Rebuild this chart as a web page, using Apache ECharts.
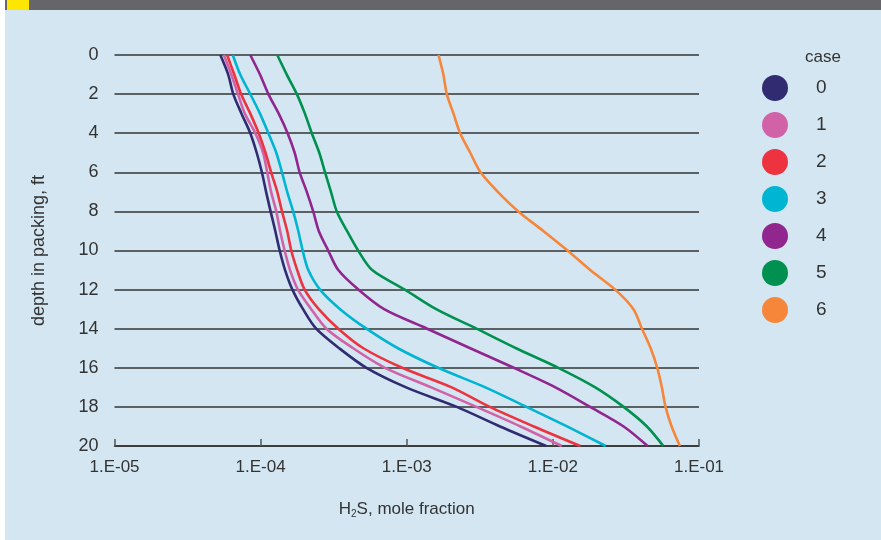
<!DOCTYPE html>
<html>
<head>
<meta charset="utf-8">
<script src="https://cdn.jsdelivr.net/npm/echarts@6/dist/echarts.min.js"></script>
<style>
  html, body { margin: 0; padding: 0; background: #d3e6f1; }
  #chart { width: 881px; height: 540px; }
</style>
</head>
<body>
<div id="chart"></div>
<script>
// depth in packing (ft), one row per curve value
var depths = [0, 1, 2, 3, 4, 5, 6, 7, 8, 9, 10, 11, 12, 13, 14, 15, 16, 17, 18, 19, 20];

// H2S mole fraction, one list per case
var case0 = [5.3e-5, 6.0e-5, 6.5e-5, 7.4e-5, 8.5e-5, 9.4e-5, 1.02e-4, 1.09e-4, 1.17e-4, 1.26e-4, 1.35e-4,
             1.47e-4, 1.65e-4, 1.95e-4, 2.4e-4, 3.45e-4, 5.3e-4, 9.9e-4, 2.2e-3, 4.35e-3, 9.0e-3];
var case1 = [5.6e-5, 6.3e-5, 7.0e-5, 7.8e-5, 9.2e-5, 1.04e-4, 1.11e-4, 1.18e-4, 1.28e-4, 1.36e-4, 1.46e-4,
             1.59e-4, 1.80e-4, 2.22e-4, 2.82e-4, 4.3e-4, 7.1e-4, 1.47e-3, 3.0e-3, 6.0e-3, 1.15e-2];
var case2 = [5.9e-5, 6.6e-5, 7.35e-5, 8.5e-5, 9.7e-5, 1.08e-4, 1.18e-4, 1.30e-4, 1.40e-4, 1.52e-4, 1.62e-4,
             1.78e-4, 2.0e-4, 2.5e-4, 3.4e-4, 5.05e-4, 9.3e-4, 2.03e-3, 3.7e-3, 7.4e-3, 1.54e-2];
var case3 = [6.45e-5, 7.25e-5, 8.5e-5, 9.9e-5, 1.13e-4, 1.28e-4, 1.40e-4, 1.52e-4, 1.67e-4, 1.81e-4, 1.94e-4,
             2.12e-4, 2.55e-4, 3.5e-4, 5.3e-4, 8.7e-4, 1.64e-3, 3.45e-3, 6.6e-3, 1.25e-2, 2.3e-2];
var case4 = [8.5e-5, 9.9e-5, 1.13e-4, 1.33e-4, 1.53e-4, 1.71e-4, 1.85e-4, 2.07e-4, 2.29e-4, 2.5e-4, 2.9e-4,
             3.4e-4, 4.67e-4, 7.0e-4, 1.38e-3, 2.72e-3, 5.4e-3, 1.04e-2, 1.8e-2, 3.05e-2, 4.45e-2];
var case5 = [1.30e-4, 1.51e-4, 1.77e-4, 2.01e-4, 2.24e-4, 2.52e-4, 2.76e-4, 3.03e-4, 3.32e-4, 3.9e-4, 4.65e-4,
             5.8e-4, 9.7e-4, 1.59e-3, 3.0e-3, 5.6e-3, 1.09e-2, 1.95e-2, 3.05e-2, 4.4e-2, 5.7e-2];
var case6 = [1.65e-3, 1.78e-3, 1.88e-3, 2.09e-3, 2.32e-3, 2.72e-3, 3.2e-3, 4.2e-3, 5.8e-3, 8.6e-3, 1.26e-2,
             1.8e-2, 2.67e-2, 3.56e-2, 4.07e-2, 4.67e-2, 5.18e-2, 5.57e-2, 5.9e-2, 6.5e-2, 7.4e-2];

var caseNames = ['0', '1', '2', '3', '4', '5', '6'];
var caseColors = ['#312b72', '#d262a8', '#ee3340', '#00b5d1', '#90268e', '#009150', '#f6863a'];
var xTickLabels = ['1.E-05', '1.E-04', '1.E-03', '1.E-02', '1.E-01'];

var allCases = [case0, case1, case2, case3, case4, case5, case6];
var font = '"Liberation Sans", Arial, sans-serif';

var chart = echarts.init(document.getElementById('chart'));

var series = allCases.map(function (vals, i) {
  return {
    name: caseNames[i],
    type: 'line',
    smooth: 0.3,
    symbol: 'none',
    lineStyle: { color: caseColors[i], width: 2.6 },
    itemStyle: { color: caseColors[i] },
    data: vals.map(function (v, k) { return [v, depths[k]]; })
  };
});

var option = {
  backgroundColor: '#d3e6f1',
  animation: false,
  grid: { left: 114.5, right: 182, top: 55, bottom: 94 },
  legend: {
    orient: 'vertical',
    left: 757,
    top: 70,
    icon: 'circle',
    itemWidth: 26,
    itemHeight: 26,
    itemGap: 11,
    data: caseNames,
    textStyle: { fontFamily: font, fontSize: 19, color: '#333', padding: [0, 0, 0, 23] }
  },
  xAxis: {
    type: 'log',
    logBase: 10,
    min: 1e-5,
    max: 0.1,
    name: 'H{sub|2}S, mole fraction',
    nameLocation: 'middle',
    nameGap: 53,
    nameTextStyle: {
      fontFamily: font, fontSize: 17, color: '#333',
      rich: { sub: { fontFamily: font, fontSize: 10, color: '#333', verticalAlign: 'bottom', padding: [10, 0, 0, 0] } }
    },
    axisLine: { show: true, onZero: false, lineStyle: { color: '#333', width: 1.5 } },
    axisTick: { show: true, inside: true, length: 7, lineStyle: { color: '#555', width: 1.5 } },
    minorTick: { show: false },
    splitLine: { show: false },
    axisLabel: {
      fontFamily: font, fontSize: 17, color: '#333', margin: 13,
      formatter: function (v) {
        var i = Math.round(Math.log(v) / Math.LN10) + 5;
        return xTickLabels[i] || '';
      }
    }
  },
  yAxis: {
    type: 'value',
    inverse: true,
    min: 0,
    max: 20,
    interval: 2,
    name: 'depth in packing, ft',
    nameLocation: 'middle',
    nameGap: 66,
    nameTextStyle: { fontFamily: font, fontSize: 18, color: '#333' },
    axisLine: { show: false },
    axisTick: { show: false },
    axisLabel: { fontFamily: font, fontSize: 18, color: '#333', margin: 16 },
    splitLine: { show: true, lineStyle: { color: '#333', width: 1.5 } }
  },
  graphic: [
    { type: 'rect', left: 0, top: 0, shape: { width: 881, height: 10 }, style: { fill: '#666668' } },
    { type: 'rect', left: 7, top: 0, shape: { width: 22, height: 10 }, style: { fill: '#ffe600' } },
    { type: 'rect', left: 0, top: 0, shape: { width: 5, height: 540 }, style: { fill: '#ffffff' } },
    {
      type: 'text', left: 805, top: 49,
      style: { text: 'case', fontFamily: font, fontSize: 17, fill: '#333' }
    }
  ],
  series: series
};

option && chart.setOption(option);
</script>
</body>
</html>
